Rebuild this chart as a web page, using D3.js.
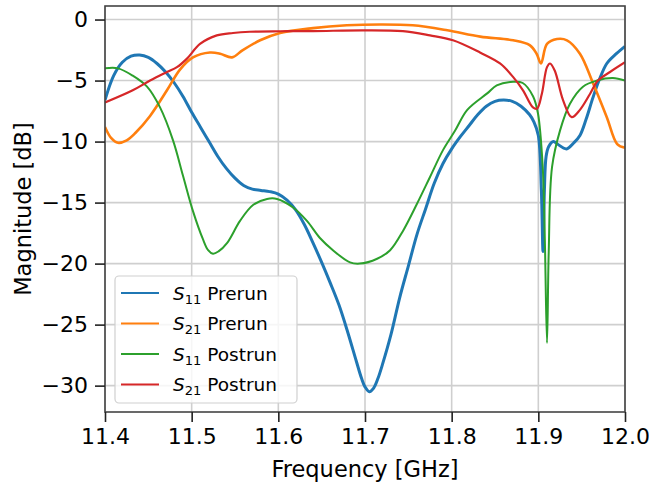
<!DOCTYPE html>
<html><head><meta charset="utf-8">
<script src="https://cdn.jsdelivr.net/npm/d3@7"></script>
<style>body{margin:0;background:#fff} text{font-family:"DejaVu Sans",sans-serif;fill:#000}</style>
</head><body><svg id="c" width="649" height="487"></svg>
<script>
const xTicks=[11.4,11.5,11.6,11.7,11.8,11.9,12.0];
const yTicks=[0,-5,-10,-15,-20,-25,-30];
const seriesNames=["Prerun","Prerun","Postrun","Postrun"];
const seriesSub=["11","21","11","21"];
const seriesColors=["#1f77b4","#ff7f0e","#2ca02c","#d62728"];

const s11PreFreq=[11.400,11.410,11.420,11.430,11.440,11.450,11.460,11.470,11.480,11.490,11.500,11.510,11.520,11.530,11.540,11.550,11.560,11.570,11.580,11.590,11.600,11.610,11.620,11.630,11.640,11.650,11.660,11.670,11.680,11.690,11.696,11.700,11.705,11.710,11.715,11.720,11.730,11.740,11.750,11.760,11.770,11.780,11.790,11.800,11.810,11.820,11.830,11.840,11.850,11.860,11.870,11.880,11.890,11.895,11.900,11.9035,11.9054,11.907,11.909,11.912,11.9175,11.922,11.9325,11.941,11.948,11.955,11.963,11.970,11.979,11.990,12.000];
const s11PreDb=[-6.6,-4.6,-3.5,-3.0,-2.9,-3.1,-3.6,-4.3,-5.2,-6.3,-7.6,-8.8,-10.0,-11.2,-12.2,-13.0,-13.6,-13.9,-14.0,-14.1,-14.3,-14.8,-15.6,-16.8,-18.3,-19.9,-21.6,-23.4,-25.6,-28.0,-29.4,-30.1,-30.5,-30.2,-29.4,-28.3,-25.8,-22.8,-20.2,-17.6,-15.5,-13.4,-11.8,-10.6,-9.6,-8.7,-7.8,-7.1,-6.7,-6.6,-6.7,-7.1,-7.8,-8.4,-9.5,-14.0,-19.0,-14.0,-11.2,-10.4,-10.0,-10.2,-10.6,-10.1,-9.5,-8.2,-6.4,-5.0,-3.6,-2.8,-2.2];

const s21PreFreq=[11.400,11.407,11.415,11.425,11.435,11.452,11.4715,11.4865,11.5015,11.521,11.533,11.5465,11.559,11.579,11.602,11.640,11.679,11.717,11.755,11.795,11.833,11.871,11.890,11.898,11.903,11.910,11.9215,11.933,11.948,11.963,11.979,11.991,12.000];
const s21PreDb=[-8.8,-9.7,-10.1,-9.9,-9.3,-7.9,-5.8,-4.1,-3.1,-2.7,-2.8,-3.1,-2.5,-1.7,-1.1,-0.7,-0.47,-0.4,-0.47,-0.88,-1.4,-1.7,-2.1,-2.8,-3.6,-2.0,-1.6,-1.7,-2.8,-5.2,-8.0,-10.2,-10.5];

const s11PostFreq=[11.400,11.415,11.432,11.4485,11.4635,11.4785,11.490,11.5015,11.513,11.519,11.5246,11.531,11.541,11.5558,11.5708,11.587,11.5985,11.617,11.633,11.648,11.663,11.6827,11.694,11.714,11.729,11.744,11.760,11.775,11.790,11.804,11.818,11.841,11.852,11.871,11.882,11.894,11.8996,11.905,11.9075,11.910,11.912,11.9158,11.925,11.9365,11.9515,11.9677,11.986,12.000];
const s11PostDb=[-4.0,-4.0,-4.6,-5.5,-7.2,-9.9,-12.8,-15.7,-18.0,-18.9,-19.2,-19.0,-18.3,-16.5,-15.2,-14.7,-14.7,-15.4,-16.5,-17.9,-18.9,-19.9,-20.0,-19.6,-18.9,-17.3,-15.1,-12.9,-10.7,-9.1,-7.4,-6.05,-5.4,-5.1,-5.2,-6.3,-7.7,-12.0,-18.0,-26.5,-19.0,-12.1,-9.1,-6.9,-5.5,-5.0,-4.8,-5.0];

const s21PostFreq=[11.400,11.432,11.452,11.4715,11.483,11.4946,11.5096,11.529,11.5477,11.567,11.602,11.640,11.6977,11.7438,11.775,11.8015,11.8327,11.8558,11.8708,11.8823,11.8938,11.8985,11.904,11.910,11.9135,11.919,11.9285,11.9385,11.948,11.9596,11.9688,11.9827,12.000];
const s21PostDb=[-6.8,-5.8,-5.0,-4.3,-3.9,-3.2,-2.0,-1.3,-1.1,-1.0,-0.96,-0.95,-0.88,-0.95,-1.3,-1.7,-2.7,-3.6,-4.7,-5.8,-7.2,-7.3,-6.1,-3.9,-3.6,-4.2,-6.6,-8.0,-7.4,-6.1,-5.0,-4.3,-3.5];

const series=[
  {f:s11PreFreq,d:s11PreDb,w:3},
  {f:s21PreFreq,d:s21PreDb,w:2.6},
  {f:s11PostFreq,d:s11PostDb,w:2},
  {f:s21PostFreq,d:s21PostDb,w:2.2}
];

const L=105,R=625,T=6,B=412;
const svg=d3.select("#c");
const x=d3.scaleLinear().domain([11.4,12.0]).range([L,R]);
const y=d3.scaleLinear().domain([-32.16,1.11]).range([B,T]);

// grid
const g=svg.append("g");
g.selectAll(".gx").data(xTicks).enter().append("line")
 .attr("x1",d=>x(d)).attr("x2",d=>x(d)).attr("y1",T).attr("y2",B)
 .attr("stroke","#cfcfcf").attr("stroke-width",1.6);
g.selectAll(".gy").data(yTicks).enter().append("line")
 .attr("y1",d=>y(d)).attr("y2",d=>y(d)).attr("x1",L).attr("x2",R)
 .attr("stroke","#cfcfcf").attr("stroke-width",1.6);

// lines
svg.append("clipPath").attr("id","cp").append("rect").attr("x",L).attr("y",T).attr("width",R-L).attr("height",B-T);
const line=d3.line().curve(d3.curveCatmullRom.alpha(0.5));
series.forEach((s,i)=>{
  const pts=s.f.map((f,j)=>[x(f),y(s.d[j])]);
  svg.append("path").attr("d",line(pts)).attr("fill","none")
   .attr("stroke",seriesColors[i]).attr("stroke-width",s.w)
   .attr("stroke-linejoin","round").attr("clip-path","url(#cp)");
});

// spines
svg.append("rect").attr("x",L).attr("y",T).attr("width",R-L).attr("height",B-T)
 .attr("fill","none").attr("stroke","#444").attr("stroke-width",1.6);

// axes
const xa=svg.append("g").attr("transform",`translate(0,${B})`)
 .call(d3.axisBottom(x).tickValues(xTicks).tickFormat(d3.format(".1f")).tickSize(10).tickPadding(6));
const ya=svg.append("g").attr("transform",`translate(${L},0)`)
 .call(d3.axisLeft(y).tickValues(yTicks).tickFormat(d3.format("d")).tickSize(10).tickPadding(7));
[xa,ya].forEach(a=>{
  a.select(".domain").remove();
  a.selectAll(".tick line").attr("stroke","#222").attr("stroke-width",1.6);
  a.selectAll(".tick text").attr("font-family","DejaVu Sans").attr("font-size",22).attr("fill","#000");
});

svg.append("text").attr("x",(L+R)/2).attr("y",477).attr("text-anchor","middle")
 .attr("font-size",22.5).text("Frequency [GHz]");
svg.append("text").attr("transform",`translate(31,${(T+B)/2}) rotate(-90)`).attr("text-anchor","middle")
 .attr("font-size",22.5).text("Magnitude [dB]");

// legend
const lg=svg.append("g");
lg.append("rect").attr("x",115).attr("y",276).attr("width",182).attr("height",127).attr("rx",4)
 .attr("fill","#fff").attr("fill-opacity",0.8).attr("stroke","#d0d0d0").attr("stroke-width",1.2);
seriesNames.forEach((n,i)=>{
  const yy=293+i*30.5;
  lg.append("line").attr("x1",121).attr("x2",159).attr("y1",yy).attr("y2",yy)
   .attr("stroke",seriesColors[i]).attr("stroke-width",2);
  const t=lg.append("text").attr("x",173).attr("y",yy+6.5).attr("font-size",18.5);
  t.append("tspan").attr("font-style","italic").text("S");
  t.append("tspan").attr("font-size",13).attr("dy",4).text(seriesSub[i]);
  t.append("tspan").attr("dy",-4).text(" "+n);
});
</script></body></html>
